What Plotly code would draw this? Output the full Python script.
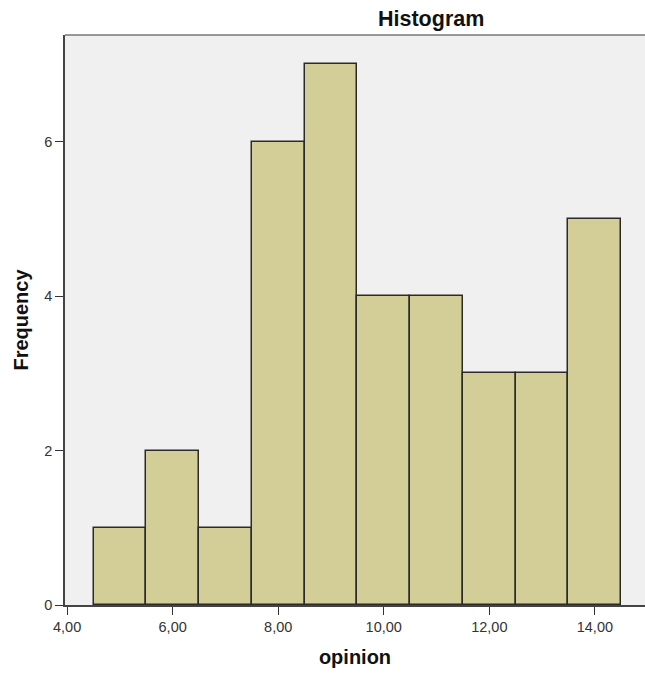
import plotly.graph_objects as go

bin_centers = [5, 6, 7, 8, 9, 10, 11, 12, 13, 14]
counts = [1, 2, 1, 6, 7, 4, 4, 3, 3, 5]
x_tick_vals = [4, 6, 8, 10, 12, 14]
x_tick_text = ["4,00", "6,00", "8,00", "10,00", "12,00", "14,00"]
y_tick_vals = [0, 2, 4, 6]
y_tick_text = ["0", "2", "4", "6"]

fig = go.Figure()
fig.add_trace(go.Bar(
    x=bin_centers, y=counts, width=1,
    marker=dict(color="#D3CE97", line=dict(color="#2a2a2a", width=1.5)),
    hoverinfo="x+y",
))

font = "Liberation Sans, Arial, sans-serif"
fig.update_layout(
    width=645, height=677,
    margin=dict(l=65, r=0, t=35, b=72),
    paper_bgcolor="white", plot_bgcolor="#F0F0F0",
    showlegend=False, bargap=0,
    font=dict(family=font, color="#333333"),
    xaxis=dict(
        range=[3.96, 14.95], tickvals=x_tick_vals, ticktext=x_tick_text,
        ticks="outside", ticklen=8, tickwidth=1.3, tickcolor="#333333",
        showline=True, linecolor="#444444", linewidth=1.5,
        showgrid=False, zeroline=False,
        tickfont=dict(size=14.5, color="#333333"),
        title=dict(text="<b>opinion</b>", font=dict(size=20, color="#111111"), standoff=16),
    ),
    yaxis=dict(
        range=[0, 7.38], tickvals=y_tick_vals, ticktext=y_tick_text,
        ticks="outside", ticklen=8, tickwidth=1.3, tickcolor="#333333",
        showline=True, linecolor="#444444", linewidth=1.5,
        showgrid=False, zeroline=False,
        tickfont=dict(size=14.5, color="#333333"),
        title=dict(text="<b>Frequency</b>", font=dict(size=20, color="#111111"), standoff=10),
    ),
    shapes=[dict(type="line", xref="paper", yref="paper", x0=0, x1=1, y0=1, y1=1,
                 line=dict(color="#777777", width=1.5))],
    annotations=[dict(text="<b>Histogram</b>", xref="paper", yref="paper",
                      x=(431 - 65) / 580, y=1, yshift=16, xanchor="center", yanchor="middle",
                      showarrow=False, font=dict(size=21.5, color="#111111", family=font))],
)

fig.write_html(
    "out.html",
    config={"displayModeBar": False},
    post_script="document.body.style.margin='0';document.body.style.overflow='hidden';",
)
